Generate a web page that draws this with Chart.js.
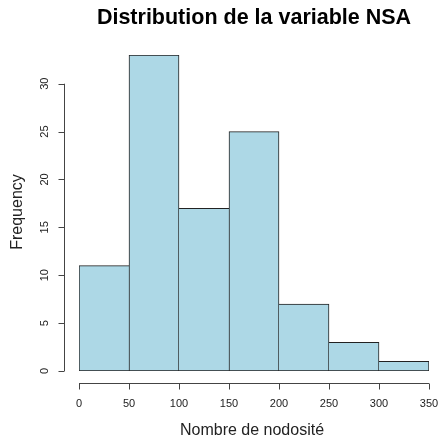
<!DOCTYPE html>
<html>
<head>
<meta charset="utf-8">
<script src="https://cdn.jsdelivr.net/npm/chart.js@4"></script>
<style>
  html, body { margin: 0; padding: 0; background: #fff; }
  #wrap { width: 439px; height: 441px; }
</style>
</head>
<body>
<div id="wrap"><canvas id="histNSA"></canvas></div>
<script>
// histogram bins (Nombre de nodosité) and counts
const binStarts = [0, 50, 100, 150, 200, 250, 300];
const binWidth = 50;
const counts = [11, 33, 17, 25, 7, 3, 1];
const xTicks = [0, 50, 100, 150, 200, 250, 300, 350];
const yTicks = [0, 5, 10, 15, 20, 25, 30];

const titleText = "Distribution de la variable NSA";
const xTitle = "Nombre de nodosité";
const yTitle = "Frequency";

const ctx = document.getElementById('histNSA');

// each shared edge is drawn once, by the taller bar (like R's rect outlines)
function edgeWidths(i) {
  const last = counts.length - 1;
  return {
    top: 1,
    bottom: 1,
    left: (i === 0 || counts[i] >= counts[i - 1]) ? 1 : 0,
    right: (i === last || counts[i] > counts[i + 1]) ? 1 : 0
  };
}

// R style axes: detached from the plot region
const rAxes = {
  id: 'rAxes',
  afterDraw(chart) {
    const c = chart.ctx;
    const xs = chart.scales.x;
    const ys = chart.scales.y;
    c.save();
    c.strokeStyle = '#444';
    c.fillStyle = '#222';
    c.lineWidth = 1;

    // x axis
    const axY = 383.5;
    c.beginPath();
    c.moveTo(xs.getPixelForValue(xTicks[0]), axY);
    c.lineTo(xs.getPixelForValue(xTicks[xTicks.length - 1]), axY);
    xTicks.forEach(v => {
      const px = Math.round(xs.getPixelForValue(v)) + 0.5;
      c.moveTo(px, axY);
      c.lineTo(px, axY + 6);
    });
    c.stroke();
    c.font = '11px "Liberation Sans", Arial, sans-serif';
    c.textAlign = 'center';
    c.textBaseline = 'middle';
    xTicks.forEach(v => c.fillText(String(v), xs.getPixelForValue(v), 404));

    // y axis
    const axX = 64.5;
    c.beginPath();
    c.moveTo(axX, ys.getPixelForValue(yTicks[0]));
    c.lineTo(axX, ys.getPixelForValue(yTicks[yTicks.length - 1]));
    yTicks.forEach(v => {
      const py = Math.round(ys.getPixelForValue(v)) + 0.5;
      c.moveTo(axX, py);
      c.lineTo(axX - 6, py);
    });
    c.stroke();
    yTicks.forEach(v => {
      c.save();
      c.translate(45, ys.getPixelForValue(v));
      c.rotate(-Math.PI / 2);
      c.fillText(String(v), 0, 0);
      c.restore();
    });

    // titles
    c.fillStyle = '#000';
    c.font = 'bold 21.5px "Liberation Sans", Arial, sans-serif';
    c.fillText(titleText, 254, 18);
    c.fillStyle = '#222';
    c.font = '16px "Liberation Sans", Arial, sans-serif';
    c.fillText(xTitle, 252, 431);
    c.save();
    c.translate(18, 212);
    c.rotate(-Math.PI / 2);
    c.fillText(yTitle, 0, 0);
    c.restore();
    c.restore();
  }
};

new Chart(ctx, {
  type: 'bar',
  data: {
    datasets: [{
      label: 'NSA',
      data: binStarts.map((b, i) => ({ x: b + binWidth / 2, y: counts[i] })),
      backgroundColor: '#ADD8E6',
      borderColor: '#222',
      borderWidth: (c) => edgeWidths(c.dataIndex),
      borderSkipped: false,
      barPercentage: 1,
      categoryPercentage: 1
    }]
  },
  options: {
    responsive: true,
    maintainAspectRatio: false,
    animation: false,
    layout: {
      padding: { left: 79, right: 10, top: 55, bottom: 70 }
    },
    plugins: {
      legend: { display: false },
      tooltip: { enabled: false }
    },
    scales: {
      x: {
        type: 'linear',
        min: 0,
        max: 350,
        offset: false,
        display: false
      },
      y: {
        min: 0,
        max: 33,
        display: false
      }
    }
  },
  plugins: [rAxes]
});
</script>
</body>
</html>
